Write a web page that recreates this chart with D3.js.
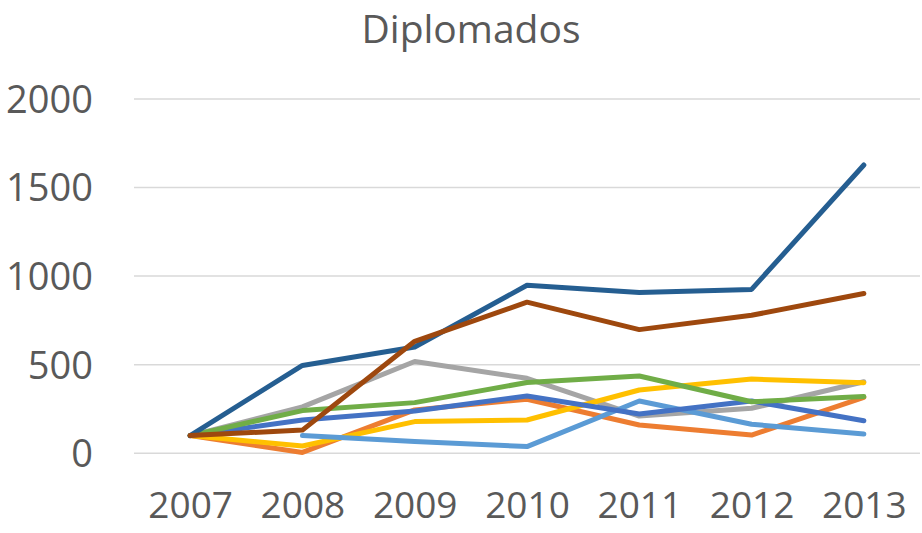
<!DOCTYPE html>
<html>
<head>
<meta charset="utf-8">
<script src="https://cdn.jsdelivr.net/npm/d3@7"></script>
<style>
  html, body { margin: 0; padding: 0; background: #fff; }
  svg { display: block; }
  text { font-family: "Open Sans", "Noto Sans", sans-serif; fill: #595959; }
</style>
</head>
<body>
<svg id="chart" width="922" height="533"></svg>
<script>
// Categories and axis ticks
const years = ["2007", "2008", "2009", "2010", "2011", "2012", "2013"];
const yTicks = [0, 500, 1000, 1500, 2000];

// Series values (null = no data for that year)
const serieAzul       = [100, 188, 239, 323, 222, 295, 184];
const serieNaranja    = [100,   5, 245, 305, 160, 103, 316];
const serieGris       = [100, 262, 518, 423, 210, 254, 404];
const serieAmarilla   = [100,  41, 179, 188, 357, 419, 398];
const serieCeleste    = [null, 100, 66,  38, 295, 164, 109];
const serieVerde      = [100, 241, 286, 400, 436, 291, 320];
const serieAzulOscuro = [100, 496, 600, 948, 907, 925, 1627];
const serieMarron     = [100, 131, 632, 853, 698, 779, 902];

const series = [
  { name: "Serie 2", values: serieNaranja,    color: "#ED7D31" },
  { name: "Serie 3", values: serieGris,       color: "#A5A5A5" },
  { name: "Serie 4", values: serieAmarilla,   color: "#FFC000" },
  { name: "Serie 5", values: serieCeleste,    color: "#5B9BD5" },
  { name: "Serie 1", values: serieAzul,       color: "#4472C4" },
  { name: "Serie 6", values: serieVerde,      color: "#70AD47" },
  { name: "Serie 7", values: serieAzulOscuro, color: "#255E91" },
  { name: "Serie 8", values: serieMarron,     color: "#9E480E" }
];

const svg = d3.select("#chart");
const plotLeft = 134, plotRight = 920, plotTop = 98.9, plotBottom = 453.3;

const x = d3.scalePoint().domain(years).range([plotLeft, plotRight]).padding(0.5);
const y = d3.scaleLinear().domain([0, 2000]).range([plotBottom, plotTop]);

// Title
svg.append("text")
  .attr("x", 471).attr("y", 42.5)
  .attr("text-anchor", "middle")
  .style("font-size", "39px")
  .text("Diplomados");

// Horizontal gridlines
svg.append("g")
  .selectAll("line")
  .data(yTicks)
  .join("line")
  .attr("x1", plotLeft).attr("x2", plotRight)
  .attr("y1", d => y(d)).attr("y2", d => y(d))
  .attr("stroke", "#D9D9D9")
  .attr("stroke-width", 1.5);

// Y axis labels
const yAxis = d3.axisLeft(y).tickValues(yTicks).tickFormat(d3.format("d"))
  .tickSize(0).tickPadding(0);
svg.append("g")
  .attr("transform", `translate(93,0)`)
  .call(yAxis)
  .call(g => g.select(".domain").remove())
  .call(g => g.selectAll("text")
    .attr("dy", "0.35em")
    .style("font-size", "38px")
    .style("font-family", "'Open Sans', sans-serif")
    .attr("fill", "#595959"));

// X axis labels
const xAxis = d3.axisBottom(x).tickSize(0).tickPadding(0);
svg.append("g")
  .attr("transform", `translate(0,${plotBottom})`)
  .call(xAxis)
  .call(g => g.select(".domain").remove())
  .call(g => g.selectAll("text")
    .attr("y", 65)
    .attr("dy", 0)
    .style("font-size", "37px")
    .style("font-family", "'Open Sans', sans-serif")
    .attr("fill", "#595959"));

// Lines
const line = d3.line()
  .defined(d => d.v !== null)
  .x(d => x(d.year))
  .y(d => y(d.v));

svg.append("g")
  .selectAll("path")
  .data(series)
  .join("path")
  .attr("d", s => line(s.values.map((v, i) => ({ year: years[i], v }))))
  .attr("fill", "none")
  .attr("stroke", s => s.color)
  .attr("stroke-width", 5)
  .attr("stroke-linecap", "round")
  .attr("stroke-linejoin", "round");
</script>
</body>
</html>
